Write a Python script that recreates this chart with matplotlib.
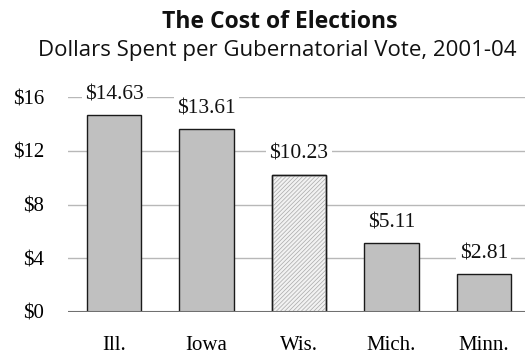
import matplotlib
matplotlib.use("Agg")
import matplotlib.pyplot as plt

states = ["Ill.", "Iowa", "Wis.", "Mich.", "Minn."]
dollars = [14.63, 13.61, 10.23, 5.11, 2.81]
value_labels = ["$14.63", "$13.61", "$10.23", "$5.11", "$2.81"]
y_ticks = [0, 4, 8, 12, 16]
y_tick_labels = ["$0", "$4", "$8", "$12", "$16"]
highlight = 2  # Wisconsin

plt.rcParams["hatch.linewidth"] = 0.5
serif = "Liberation Serif"

fig = plt.figure(figsize=(5.25, 3.54), dpi=100)
ax = fig.add_axes([68 / 525, 42 / 354, 462 / 525, 215 / 354])

x = list(range(len(states)))
colors = ["#c0c0c0"] * len(states)
colors[highlight] = "#f2f2f2"
ax.bar(x, dollars, width=0.59, color=colors, edgecolor="#1a1a1a",
       linewidth=1.0, zorder=3)
# textured fill for the highlighted bar (hatch colour comes from edgecolor)
ax.bar(x[highlight], dollars[highlight], width=0.59, color="none",
       edgecolor="#a8a8a8", hatch="////////", linewidth=0, zorder=3.5)
ax.bar(x[highlight], dollars[highlight], width=0.59, fill=False,
       edgecolor="#1a1a1a", linewidth=1.0, zorder=3.6)

for i, (v, lab) in enumerate(zip(dollars, value_labels)):
    ax.annotate(lab, (i, v), xytext=(0, 11.5), textcoords="offset points",
                ha="center", va="baseline", fontsize=15.5, family=serif,
                color="#111111", zorder=5,
                bbox=dict(boxstyle="square,pad=0.15", fc="white", ec="none"))

ax.set_xlim(-0.5, 4.5)
ax.set_ylim(0, 16)
ax.set_yticks(y_ticks)
ax.set_yticklabels(y_tick_labels, family=serif, fontsize=15)
ax.set_xticks(x)
ax.set_xticklabels(states, family=serif, fontsize=15)
ax.tick_params(axis="y", length=0, pad=17)
ax.tick_params(axis="x", length=0, pad=17)
ax.yaxis.grid(True, color="#b8b8b8", linewidth=1.0, zorder=0)
ax.set_axisbelow(True)
for s in ax.spines.values():
    s.set_visible(False)
ax.axhline(0, color="#707070", linewidth=1.5, zorder=4)

fig.text(279.5 / 525, 1 - 28 / 354, "The Cost of Elections", ha="center",
         va="baseline", fontsize=16.5, fontweight="bold", family="Open Sans",
         color="#111111")
fig.text(277 / 525, 1 - 56 / 354, "Dollars Spent per Gubernatorial Vote, 2001-04",
         ha="center", va="baseline", fontsize=16, family="Open Sans",
         color="#111111")

fig.savefig("out.png", dpi=100)
